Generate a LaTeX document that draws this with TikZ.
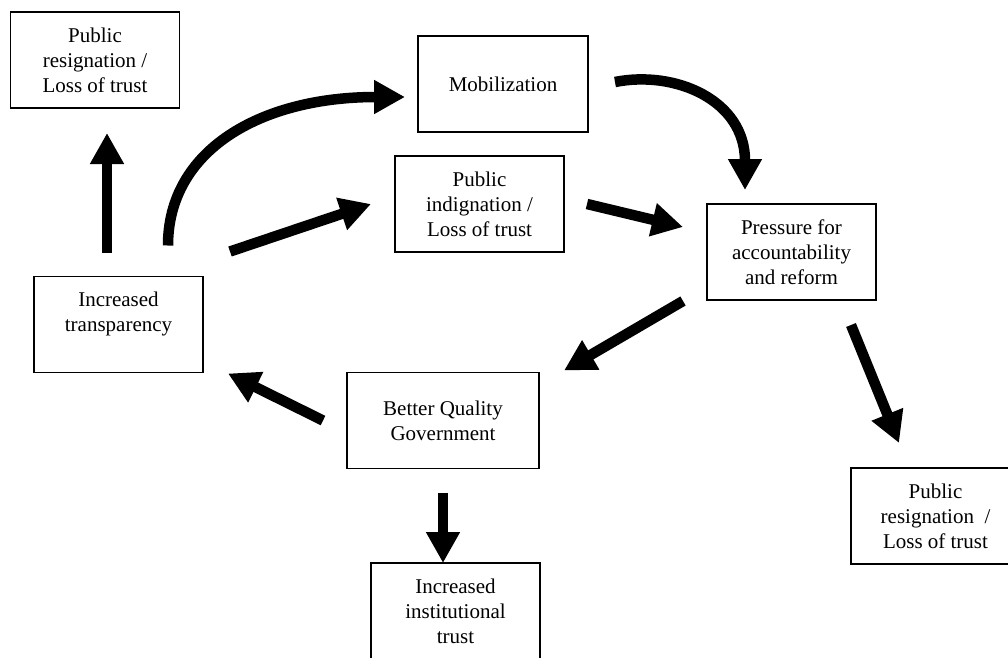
\documentclass[tikz,border=0pt]{standalone}
\usepackage{fontspec}
\setmainfont{Liberation Serif}
\usepackage{tikz}
\usetikzlibrary{arrows.meta}
\tikzset{
  every picture/.style={line join=miter},
  statebox/.style={draw, line width=1.9pt, minimum width=169pt, minimum height=96pt,
    inner sep=0pt, outer sep=0pt, align=center, font=\fontsize{21}{25}\selectfont},
  bigarrow/.style={line width=10.5pt, -{Triangle[length=31pt,width=32pt]}},
}

\begin{document}
\begin{tikzpicture}[x=1pt,y=-1pt]
\useasboundingbox (0,0) rectangle (1008,657);
\clip (0,0) rectangle (1008,657);
% boxes
\node[statebox] (res1) at (95,60) {Public\\resignation /\\Loss of trust};
\node[statebox, minimum width=170pt] (mob) at (503,84) {Mobilization};
\node[statebox] (indig) at (479.5,204) {Public\\indignation /\\Loss of trust};
\node[statebox] (press) at (791.5,252) {Pressure for\\accountability\\and reform};
\node[statebox] (transp) at (118.5,324.5) {Increased\\transparency\\\mbox{}};
\node[statebox, minimum width=192pt] (bqg) at (443,420.5) {Better Quality\\Government};
\node[statebox] (res2) at (935.5,516) {Public\\resignation~ /\\Loss of trust};
\node[statebox] (inst) at (455.5,611) {Increased\\institutional\\trust};
% arrows
\draw[bigarrow] ([xshift=-11.5pt,yshift=24pt]transp.north) -- ([xshift=12pt,yshift=-25pt]res1.south);
\draw[bigarrow] ([xshift=49.5pt,yshift=31pt]transp.north) .. controls +(0,-95) and +(-145,0) .. ([xshift=-13pt,yshift=-13pt]mob.west);
\draw[bigarrow] ([xshift=27pt,yshift=25pt]transp.north east) -- ([xshift=-24pt]indig.west);
\draw[bigarrow] ([xshift=27pt,yshift=2pt]mob.east) .. controls +(60,-12) and +(0,-90) .. ([xshift=-46.5pt,yshift=14pt]press.north);
\draw[bigarrow] ([xshift=23pt]indig.east) -- ([xshift=-24pt,yshift=25pt]press.west);
\draw[bigarrow] ([xshift=-24pt,yshift=-1pt]press.south west) -- ([xshift=25pt,yshift=2pt]bqg.north east);
\draw[bigarrow] ([xshift=59.5pt,yshift=-25pt]press.south) -- ([xshift=-36.5pt,yshift=25pt]res2.north);
\draw[bigarrow] ([xshift=-24pt]bqg.west) -- ([xshift=25pt,yshift=-1pt]transp.south east);
\draw[bigarrow] ([yshift=-24pt]bqg.south) -- ([xshift=-12.5pt]inst.north);
\end{tikzpicture}
\end{document}
